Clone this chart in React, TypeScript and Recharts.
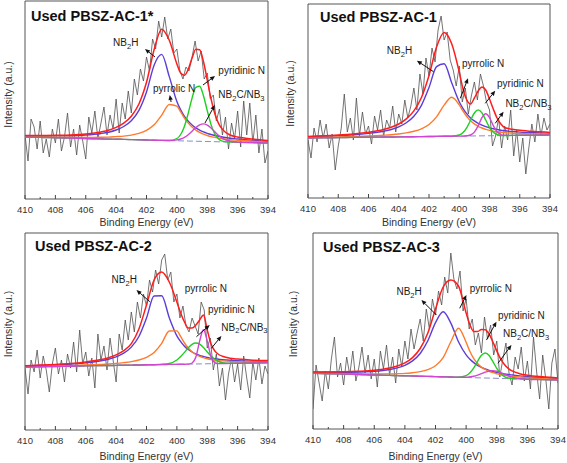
import React from 'react';
import {
  LineChart,
  Line,
  XAxis,
  YAxis,
  Label,
  ReferenceArea,
  ReferenceDot,
  ReferenceLine,
} from 'recharts';

// fitted curves share one grid, denser through the narrow peaks
const FIT_E = [410, 409, 408, 407, 406, 405, 404.5, 404, 403.5, 403, 402.5, 402, 401.5, 401, 400.5, 400,
  399.75, 399.5, 399.25, 399, 398.75, 398.5, 398.25, 398, 397.75, 397.5, 397.25, 397, 396.5, 396, 395, 394];
// raw spectrum, 0.2 eV steps from 410 down to 394
const RAW_E = Array.from({ length: 81 }, (_, i) => Math.round((410 - i * 0.2) * 10) / 10);
const BASE_E = [410, 394];
const TICKS = [394, 395, 396, 397, 398, 399, 400, 401, 402, 403, 404, 405, 406, 407, 408, 409, 410];
const TITLES = ['Used PBSZ-AC-1*', 'Used PBSZ-AC-1', 'Used PBSZ-AC-2', 'Used PBSZ-AC-3'];

// ---- panel 1: Used PBSZ-AC-1*
const P1_RAW = [64, 38, 80, 72, 50, 78, 46, 60, 42, 70,
  56, 80, 48, 62, 86, 52, 70, 44, 74, 58,
  40, 82, 66, 88, 60, 76, 92, 64, 84, 70,
  100, 66, 96, 80, 108, 86, 120, 104, 130, 118,
  142, 128, 160, 150, 178, 162, 182, 160, 170, 146,
  150, 128, 120, 132, 128, 142, 158, 138, 148, 120,
  126, 100, 104, 78, 90, 64, 82, 50, 76, 60,
  88, 52, 98, 64, 96, 56, 84, 46, 70, 36,
  48];
const P1_BASE = [62, 56];
const P1_NB2H = [63.1, 63, 63.1, 63.3, 64, 65.5, 66.8, 69, 72.5, 78.3, 88.6, 107, 133.8, 144.6, 122.4, 97.6,
  89.1, 82.6, 77.7, 74, 71.1, 68.9, 67.1, 65.7, 64.5, 63.5, 62.7, 62, 60.8, 60, 58.7, 57.7];
const P1_PYRROLIC = [62.4, 62.1, 61.9, 61.7, 61.6, 61.7, 61.9, 62.4, 62.9, 63.9, 65.6, 68.7, 74.2, 83.8, 94.5, 92.8,
  87.1, 81, 75.9, 71.9, 68.9, 66.6, 64.8, 63.5, 62.4, 61.6, 60.8, 60.3, 59.3, 58.7, 57.7, 56.9];
const P1_PYRIDINIC = [62, 61.6, 61.3, 60.9, 60.5, 60.1, 59.9, 59.8, 59.6, 59.4, 59.2, 59, 58.8, 58.6, 58.5, 60.5,
  64.5, 72.8, 85.9, 100.9, 111.7, 112.8, 103.3, 88.4, 74.4, 64.9, 60, 57.9, 56.9, 56.8, 56.4, 56];
const P1_NB3 = [62, 61.6, 61.3, 60.9, 60.5, 60.1, 59.9, 59.8, 59.6, 59.4, 59.2, 59, 58.8, 58.6, 58.5, 59.1,
  60, 61.7, 64.3, 67.8, 71.4, 74.1, 75.1, 73.9, 71, 67.2, 63.5, 60.7, 57.7, 56.9, 56.4, 56];
const P1_SUM = [63.5, 63.5, 63.7, 64.1, 65.1, 67.1, 68.8, 71.6, 75.8, 82.8, 95, 116.7, 149.2, 169.8, 158.7, 135.1,
  126.1, 123.8, 129.8, 140.9, 149.7, 149.3, 137.5, 119, 100.1, 85.3, 75.4, 69.6, 64, 62, 60, 58.6];

// ---- panel 2: Used PBSZ-AC-1
const P2_RAW = [58, 40, 70, 56, 78, 60, 74, 50, 64, 28,
  52, 70, 104, 66, 80, 58, 100, 62, 86, 64,
  72, 54, 82, 68, 88, 62, 78, 70, 92, 66,
  84, 74, 98, 80, 92, 110, 88, 124, 104, 140,
  122, 150, 136, 168, 182, 158, 166, 138, 128, 112,
  132, 96, 110, 84, 102, 116, 98, 124, 112, 96,
  88, 52, 62, 80, 50, 72, 58, 88, 42, 68,
  36, 60, 24, 50, 74, 56, 84, 62, 80, 68,
  74];
const P2_BASE = [60, 63];
const P2_NB2H = [61.2, 61.7, 62.3, 63.2, 64.6, 66.8, 68.5, 71.1, 75.2, 81.7, 92.7, 110.5, 131.4, 134.3, 115.2, 96.2,
  89.3, 84.1, 80.1, 77.1, 74.7, 72.9, 71.4, 70.2, 69.2, 68.5, 67.8, 67.3, 66.5, 65.9, 65.2, 64.7];
const P2_PYRROLIC = [60.4, 60.7, 61.1, 61.5, 62, 62.8, 63.3, 64, 65.1, 66.7, 69.2, 73.5, 81.1, 92.9, 100.8, 93.1,
  86.9, 81.5, 77.2, 74.1, 71.7, 70, 68.6, 67.7, 66.9, 66.3, 65.8, 65.4, 64.9, 64.5, 64.1, 63.9];
const P2_PYRIDINIC = [60, 60.2, 60.4, 60.6, 60.8, 61, 61, 61.1, 61.2, 61.3, 61.4, 61.5, 61.6, 61.7, 61.9, 63,
  65.4, 70.4, 77.8, 85, 88.1, 85.1, 78, 70.7, 65.8, 63.5, 62.5, 62.5, 62.6, 62.7, 62.9, 63];
const P2_NB3 = [60, 60.2, 60.4, 60.6, 60.8, 61, 61, 61.1, 61.2, 61.3, 61.4, 61.5, 61.6, 61.7, 61.8, 61.9,
  61.9, 62.2, 63, 65.9, 72.2, 80.3, 84.2, 80.4, 72.4, 66.2, 63.4, 62.7, 62.6, 62.7, 62.9, 63];
const P2_SUM = [61.6, 62.2, 63, 64.1, 65.8, 68.6, 70.8, 74, 79.1, 87.1, 100.5, 122.5, 150.9, 165.5, 154.3, 126,
  109, 98, 94, 100, 107, 111, 108, 99, 89, 80, 74, 70.5, 68.8, 67.7, 66.4, 65.6];

// ---- panel 3: Used PBSZ-AC-2
const P3_RAW = [62, 36, 70, 58, 80, 52, 74, 60, 38, 66,
  82, 56, 70, 48, 76, 62, 88, 58, 100, 66,
  78, 54, 72, 42, 96, 70, 84, 60, 92, 70,
  48, 96, 80, 110, 90, 118, 98, 128, 112, 136,
  124, 150, 138, 160, 146, 170, 176, 150, 158, 128,
  136, 112, 124, 104, 98, 112, 104, 96, 128, 120,
  82, 92, 60, 76, 44, 62, 30, 56, 72, 48,
  66, 40, 74, 52, 32, 68, 50, 72, 46, 64,
  56];
const P3_BASE = [63, 67.3];
const P3_NB2H = [63.9, 64.5, 65.1, 65.9, 67.2, 69.2, 70.8, 73.1, 76.8, 82.9, 93.5, 111.9, 134, 134.2, 112.3, 94.2,
  88.3, 83.8, 80.5, 78, 76.1, 74.6, 73.5, 72.5, 71.8, 71.2, 70.7, 70.3, 69.7, 69.4, 68.8, 68.7];
const P3_PYRROLIC = [63.3, 63.7, 64, 64.4, 65, 65.6, 66, 66.6, 67.4, 68.4, 70, 72.7, 77.6, 86.7, 99, 99.1,
  93.3, 87, 82, 78.3, 75.5, 73.6, 72.3, 71.2, 70.4, 69.9, 69.4, 69.1, 68.6, 68.3, 68, 68];
const P3_PYRIDINIC = [63, 63.3, 63.5, 63.8, 64.1, 64.4, 64.5, 64.6, 64.8, 64.9, 65, 65.2, 65.3, 65.6, 66.5, 70,
  73.4, 77.6, 82.2, 85.7, 87, 85.8, 82.5, 78, 73.9, 70.7, 68.5, 67.4, 66.7, 66.8, 67, 67.3];
const P3_NB3 = [63, 63.3, 63.5, 63.8, 64.1, 64.4, 64.5, 64.6, 64.8, 64.9, 65, 65.2, 65.3, 65.5, 65.6, 65.7,
  65.8, 65.8, 65.9, 67, 72.9, 89, 100.2, 89.1, 73.2, 67.4, 66.4, 66.5, 66.6, 66.8, 67, 67.3];
const P3_SUM = [64.2, 64.9, 65.6, 66.5, 68.1, 70.4, 72.3, 75.1, 79.4, 86.4, 101, 125, 150, 158, 148, 128,
  117, 108, 102, 102, 105, 110, 115, 100, 86, 79, 75.5, 73.8, 71.8, 70.9, 69.8, 69.4];

// ---- panel 4: Used PBSZ-AC-3
const P4_RAW = [20, 64, 46, 28, 58, 40, 70, 92, 52, 66,
  44, 72, 54, 78, 48, 62, 82, 56, 74, 50,
  70, 42, 78, 60, 84, 54, 72, 46, 80, 62,
  88, 70, 100, 80, 96, 110, 88, 120, 100, 130,
  114, 138, 124, 152, 136, 176, 150, 140, 158, 118,
  130, 100, 110, 84, 96, 76, 112, 90, 104, 74,
  88, 52, 70, 86, 56, 44, 72, 60, 82, 48,
  68, 40, 92, 58, 30, 74, 50, 20, 66, 80,
  46];
const P4_BASE = [55.7, 49];
const P4_NB2H = [56.8, 56.7, 56.7, 57, 57.7, 59.5, 61.1, 63.7, 68.1, 75.5, 88.2, 106.3, 117.2, 105.9, 87.3, 74.2,
  69.8, 66.4, 63.7, 61.6, 60, 58.6, 57.5, 56.6, 55.8, 55.1, 54.5, 54, 53.1, 52.3, 51.2, 50.4];
const P4_PYRROLIC = [56, 55.7, 55.4, 55.2, 55, 55.1, 55.3, 55.6, 56.3, 57.4, 59.4, 63.2, 71.3, 87.2, 100.7, 86.7,
  77.5, 70.4, 65.5, 61.9, 59.5, 57.7, 56.3, 55.3, 54.4, 53.8, 53.2, 52.7, 52, 51.3, 50.4, 49.7];
const P4_PYRIDINIC = [55.7, 55.3, 54.9, 54.5, 54, 53.6, 53.4, 53.2, 53, 52.8, 52.6, 52.4, 52.2, 52, 51.9, 53.4,
  56.2, 61.2, 67.7, 73.7, 76, 73.5, 67.3, 60.6, 55.4, 52.4, 51, 50.5, 50.1, 49.8, 49.4, 49];
const P4_NB3 = [55.7, 55.3, 54.9, 54.5, 54, 53.6, 53.4, 53.2, 53, 52.8, 52.6, 52.4, 52.2, 52, 51.7, 51.8,
  52.2, 52.8, 53.9, 55.3, 56.8, 57.9, 58.3, 57.7, 56.4, 54.7, 53.1, 51.8, 50.4, 49.8, 49.4, 49];
const P4_SUM = [57.1, 57.1, 57.2, 57.7, 58.7, 61, 63, 66.1, 71.4, 80.5, 96, 120, 142, 149, 143, 116,
  104, 97.5, 97.5, 99.5, 99.3, 95, 87, 78.1, 70.2, 64.5, 60.6, 58.1, 55.3, 53.8, 52.2, 51.1];

// annotation anchors in data units: label start, arrow tail -> head
const ANNOT_1 = [
  { kind: 'nb2h', at: [404.2, 153], tail: [401.44, 142], head: [402.1, 150] },
  { kind: 'pyrrolic', at: [401.57, 107], tail: [400.38, 97], head: [400.47, 104] },
  { kind: 'pyridinic', at: [397.27, 125], tail: [398.28, 114], head: [397.49, 123] },
  { kind: 'nb3', at: [397.27, 101], tail: [398.15, 76], head: [397.5, 94] },
];
const ANNOT_2 = [
  { kind: 'nb2h', at: [404.79, 144], tail: [401.7, 126.3], head: [402.8, 137.3] },
  { kind: 'pyrrolic', at: [399.82, 131.3], tail: [399.93, 99.7], head: [399.42, 119.7] },
  { kind: 'pyridinic', at: [397.5, 110.7], tail: [398.28, 94.7], head: [397.62, 107.3] },
  { kind: 'nb3', at: [396.95, 90.7], tail: [397.62, 74.7], head: [397.07, 86.3] },
];
const ANNOT_3 = [
  { kind: 'nb2h', at: [404.3, 146.7], tail: [401.78, 128.3], head: [402.66, 140] },
  { kind: 'pyrrolic', at: [399.48, 138.3] },
  { kind: 'pyridinic', at: [397.95, 117.3], tail: [398.71, 93.3], head: [397.84, 105] },
  { kind: 'nb3', at: [397.07, 99.3], tail: [397.73, 81.7], head: [397.07, 94] },
];
const ANNOT_4 = [
  { kind: 'nb2h', at: [404.55, 134], tail: [401.94, 114], head: [402.92, 129] },
  { kind: 'pyrrolic', at: [399.77, 137.3], tail: [400.42, 120.7], head: [399.98, 134] },
  { kind: 'pyridinic', at: [397.92, 109.7], tail: [398.67, 89], head: [398.02, 107.3] },
  { kind: 'nb3', at: [397.59, 91.7], tail: [397.92, 65.7], head: [397.04, 84] },
];

const COLORS = {
  raw: '#505050',
  base: '#8c8cd0',
  nb2h: '#5b3dd8',
  pyrrolic: '#ff7a2c',
  pyridinic: '#1fcf1f',
  nb3: '#d046d0',
  sum: '#ff1c1c',
};

const FONT = "'Liberation Sans', Arial, sans-serif";

const toPts = (xs: number[], ys: number[]) => xs.map((e, i) => ({ e, v: ys[i] }));

const PANELS = [
  {
    title: TITLES[0], annot: ANNOT_1,
    raw: P1_RAW, base: P1_BASE, nb2h: P1_NB2H, pyrrolic: P1_PYRROLIC, pyridinic: P1_PYRIDINIC, nb3: P1_NB3, sum: P1_SUM,
    left: 0, top: 0, width: 283, height: 230, margin: { top: 1, right: 15, bottom: 0, left: 0 },
    yW: 25, xH: 31, yMax: 198, titleX: 31, titleY: 21, yLabel: [8, 94.5], xLabelOffset: 4,
  },
  {
    title: TITLES[1], annot: ANNOT_2,
    raw: P2_RAW, base: P2_BASE, nb2h: P2_NB2H, pyrrolic: P2_PYRROLIC, pyridinic: P2_PYRIDINIC, nb3: P2_NB3, sum: P2_SUM,
    left: 283, top: 0, width: 284, height: 230, margin: { top: 4, right: 17, bottom: 0, left: 0 },
    yW: 25, xH: 32, yMax: 194, titleX: 37, titleY: 22, yLabel: [7, 93.5], xLabelOffset: 4,
  },
  {
    title: TITLES[2], annot: ANNOT_3,
    raw: P3_RAW, base: P3_BASE, nb2h: P3_NB2H, pyrrolic: P3_PYRROLIC, pyridinic: P3_PYRIDINIC, nb3: P3_NB3, sum: P3_SUM,
    left: 0, top: 230, width: 283, height: 233, margin: { top: 3, right: 15, bottom: 0, left: 0 },
    yW: 25, xH: 33, yMax: 197, titleX: 35, titleY: 21, yLabel: [8, 94], xLabelOffset: 3,
  },
  {
    title: TITLES[3], annot: ANNOT_4,
    raw: P4_RAW, base: P4_BASE, nb2h: P4_NB2H, pyrrolic: P4_PYRROLIC, pyridinic: P4_PYRIDINIC, nb3: P4_NB3, sum: P4_SUM,
    left: 283, top: 230, width: 284, height: 233, margin: { top: 3, right: 9, bottom: 0, left: 0 },
    yW: 30, xH: 34, yMax: 196, titleX: 40, titleY: 22, yLabel: [10, 94], xLabelOffset: 3.5,
  },
];

function EnergyTick({ x, y, payload }: any) {
  const major = payload.value % 2 === 0;
  return (
    <g>
      <line x1={x} x2={x} y1={y} y2={y - (major ? 4 : 2)} stroke="#444" strokeWidth={1} />
      {major && (
        <text x={x} y={y + 13.5} textAnchor="middle" fontSize={9.5} fill="#333">
          {payload.value}
        </text>
      )}
    </g>
  );
}

function AnnotText({ cx, cy, kind }: { cx: number; cy: number; kind: string }) {
  const sub = { fontSize: 7.5 };
  if (kind === 'nb2h') {
    return (
      <text x={cx} y={cy} fontSize={10} fill="#1a1a1a">
        NB<tspan {...sub} dy={2.5}>2</tspan><tspan dy={-2.5}>H</tspan>
      </text>
    );
  }
  if (kind === 'nb3') {
    return (
      <text x={cx} y={cy} fontSize={10} fill="#1a1a1a">
        NB<tspan {...sub} dy={2.5}>2</tspan><tspan dy={-2.5}>C/NB</tspan>
        <tspan {...sub} dy={2.5}>3</tspan>
      </text>
    );
  }
  return (
    <text x={cx} y={cy} fontSize={10} fill="#1a1a1a">
      {kind === 'pyrrolic' ? 'pyrrolic N' : 'pyridinic N'}
    </text>
  );
}

// arrow drawn from tail (x1,y1) with its head at (x2,y2)
function ArrowShape(props: any) {
  const { x1, y1, x2, y2 } = props;
  const len = Math.hypot(x2 - x1, y2 - y1) || 1;
  const ux = (x2 - x1) / len;
  const uy = (y2 - y1) / len;
  const bx = x2 - ux * 5;
  const by = y2 - uy * 5;
  const nx = -uy * 2.2;
  const ny = ux * 2.2;
  return (
    <g>
      <line x1={x1} y1={y1} x2={bx} y2={by} stroke="#111" strokeWidth={1} />
      <polygon points={`${x2},${y2} ${bx + nx},${by + ny} ${bx - nx},${by - ny}`} fill="#111" />
    </g>
  );
}

function Panel({ p }: { p: (typeof PANELS)[number] }) {
  const [lx, ly] = p.yLabel;
  return (
    <div style={{ position: 'absolute', left: p.left, top: p.top, width: p.width, height: p.height }}>
      <LineChart width={p.width} height={p.height} margin={p.margin}>
        <XAxis
          dataKey="e"
          type="number"
          domain={[394, 410]}
          reversed
          allowDataOverflow
          ticks={TICKS}
          interval={0}
          tick={<EnergyTick />}
          tickSize={0}
          tickMargin={0}
          tickLine={false}
          axisLine={false}
          height={p.xH}
          label={{ value: 'Binding Energy (eV)', position: 'insideBottom', offset: p.xLabelOffset, fontSize: 10.5, fill: '#333' }}
        />
        <YAxis
          type="number"
          domain={[0, p.yMax]}
          allowDataOverflow
          width={p.yW}
          tick={false}
          tickLine={false}
          axisLine={false}
        >
          <Label
            content={() => (
              <text
                x={lx}
                y={ly}
                transform={`rotate(-90 ${lx} ${ly})`}
                textAnchor="middle"
                dominantBaseline="central"
                fontSize={10.5}
                fill="#333"
              >
                Intensity (a.u.)
              </text>
            )}
          />
        </YAxis>
        <ReferenceArea x1={394} x2={410} y1={0} y2={p.yMax} fill="none" stroke="#555" strokeWidth={1} ifOverflow="visible" />
        <Line data={toPts(RAW_E, p.raw)} dataKey="v" type="linear" stroke={COLORS.raw} strokeWidth={0.8} dot={false} isAnimationActive={false} />
        <Line data={toPts(BASE_E, p.base)} dataKey="v" type="linear" stroke={COLORS.base} strokeWidth={1} strokeDasharray="6 3" dot={false} isAnimationActive={false} />
        <Line data={toPts(FIT_E, p.nb2h)} dataKey="v" type="monotone" stroke={COLORS.nb2h} strokeWidth={1.4} dot={false} isAnimationActive={false} />
        <Line data={toPts(FIT_E, p.pyrrolic)} dataKey="v" type="monotone" stroke={COLORS.pyrrolic} strokeWidth={1.4} dot={false} isAnimationActive={false} />
        <Line data={toPts(FIT_E, p.pyridinic)} dataKey="v" type="monotone" stroke={COLORS.pyridinic} strokeWidth={1.4} dot={false} isAnimationActive={false} />
        <Line data={toPts(FIT_E, p.nb3)} dataKey="v" type="monotone" stroke={COLORS.nb3} strokeWidth={1.4} dot={false} isAnimationActive={false} />
        <Line data={toPts(FIT_E, p.sum)} dataKey="v" type="monotone" stroke={COLORS.sum} strokeWidth={1.5} dot={false} isAnimationActive={false} />
        {p.annot.map((a, i) => (
          <ReferenceDot
            key={`t${i}`}
            x={a.at[0]}
            y={a.at[1]}
            r={0}
            ifOverflow="visible"
            shape={(s: any) => <AnnotText cx={s.cx} cy={s.cy} kind={a.kind} />}
          />
        ))}
        {p.annot.filter((a) => a.tail).map((a, i) => (
          <ReferenceLine
            key={`a${i}`}
            segment={[{ x: a.tail![0], y: a.tail![1] }, { x: a.head![0], y: a.head![1] }]}
            ifOverflow="visible"
            shape={ArrowShape}
          />
        ))}
      </LineChart>
      <div
        style={{
          position: 'absolute',
          left: p.titleX,
          top: p.titleY - 12.3,
          fontSize: 14.5,
          fontWeight: 'bold',
          lineHeight: 1,
          color: '#111',
          whiteSpace: 'nowrap',
        }}
      >
        {p.title}
      </div>
    </div>
  );
}

export default function App() {
  return (
    <div
      style={{
        position: 'absolute',
        left: 0,
        top: 0,
        width: 567,
        height: 463,
        background: '#fff',
        fontFamily: FONT,
        overflow: 'hidden',
      }}
    >
      {PANELS.map((p, i) => (
        <Panel key={i} p={p} />
      ))}
    </div>
  );
}
